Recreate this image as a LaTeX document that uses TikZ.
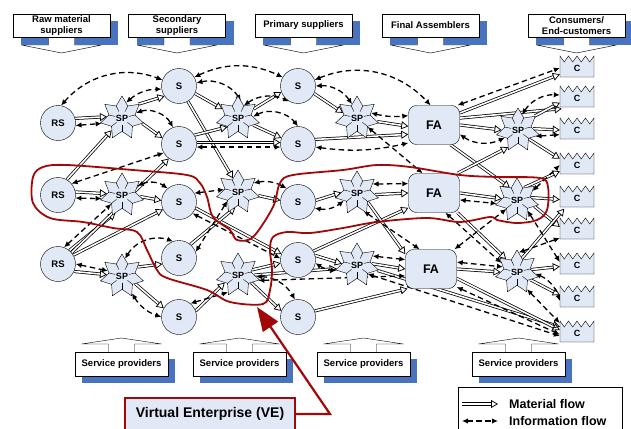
\documentclass[tikz,border=0pt]{standalone}
\usepackage{fontspec}
\setmainfont{Liberation Sans}
\usepackage{tikz}
\usetikzlibrary{arrows.meta,positioning,shapes.geometric,backgrounds,calc}
\definecolor{nodeblue}{RGB}{226,233,246}
\definecolor{shadeblue}{RGB}{72,115,190}
\definecolor{vered}{RGB}{162,8,8}

\begin{document}
\begin{tikzpicture}[
x=1pt, y=1pt,
font=\bfseries,
circ/.style={circle, draw, fill=nodeblue, minimum size=35pt, inner sep=0pt, font=\bfseries\fontsize{9.5}{10}\selectfont},
spstar/.style={star, star points=7, star point ratio=1.65, draw, fill=nodeblue, minimum size=44pt, inner sep=0pt, font=\bfseries\fontsize{9}{10}\selectfont},
fabox/.style={rectangle, rounded corners=8pt, draw, fill=nodeblue, minimum width=51pt, minimum height=39pt, font=\bfseries\fontsize{12.5}{13}\selectfont},
cnode/.style={rectangle, minimum width=34pt, minimum height=21pt, inner sep=0pt, font=\bfseries\fontsize{9}{10}\selectfont},
stagebox/.style={draw, fill=white, minimum width=97pt, minimum height=23pt, inner sep=1pt, align=center, font=\bfseries\fontsize{9.5}{10.5}\selectfont},
facet/.style={line width=0.4pt, shorten <=7pt},
mat/.style={double, double distance=1.6pt, line width=0.75pt, -{Triangle[open,length=7pt,width=8pt]}},
info/.style={dashed, dash pattern=on 5.5pt off 3.5pt, line width=1.3pt, {Latex[length=6pt,width=5.5pt]}-{Latex[length=6pt,width=5.5pt]}},
]
\useasboundingbox (0,0) rectangle (631,-428);

% Draw stage headers
\foreach \x/\txt [count=\i] in {61.5/{Raw material\\suppliers}, 177/{Secondary\\suppliers}, 303.5/{Primary suppliers}, 430.5/{Final Assemblers}, 576.5/{Consumers/\\End-customers}} {
  \fill[shadeblue] (\x-40.5,-21) rectangle (\x+56.5,-45);
  \draw[fill=white] (\x-13,-37) -- (\x-13,-45) -- (\x-40,-45) -- (\x,-53) -- (\x+40,-45) -- (\x+13,-45) -- (\x+13,-37);
  \node[stagebox] (h\i) at (\x,-25.5) {\txt};
}

% Draw service providers
\foreach \x [count=\i] in {121.5,239.5,363.5,518.5} {
  \fill[shadeblue] (\x-39.5,-359) rectangle (\x+53.5,-383);
  \draw[fill=white] (\x-13,-352) -- (\x-13,-344) -- (\x-40,-344) -- (\x,-338) -- (\x+40,-344) -- (\x+13,-344) -- (\x+13,-352);
  \node[stagebox, minimum width=93pt, minimum height=24pt] (sv\i) at (\x,-364) {Service providers};
}

% Draw nodes
\node[circ] (rs1) at (58,-123) {RS};
\node[circ] (rs2) at (58,-195) {RS};
\node[circ] (rs3) at (58,-264) {RS};
\node[spstar] (spa1) at (122,-118) {SP};
\node[spstar] (spa2) at (122,-195) {SP};
\node[spstar] (spa3) at (122,-276) {SP};
\node[circ] (s1) at (179,-86) {S};
\node[circ] (s2) at (179,-144) {S};
\node[circ] (s3) at (179,-202) {S};
\node[circ] (s4) at (179,-258) {S};
\node[circ] (s5) at (179,-317) {S};
\node[spstar] (spb1) at (238,-118) {SP};
\node[spstar] (spb2) at (238,-192) {SP};
\node[spstar] (spb3) at (238,-275) {SP};
\node[circ] (p1) at (298,-86) {S};
\node[circ] (p2) at (298,-144) {S};
\node[circ] (p3) at (298,-202) {S};
\node[circ] (p4) at (298,-260) {S};
\node[circ] (p5) at (298,-317) {S};
\node[spstar] (spc1) at (357,-118) {SP};
\node[spstar] (spc2) at (357,-193) {SP};
\node[spstar] (spc3) at (357,-265) {SP};
\node[fabox] (fa1) at (434,-125) {FA};
\node[fabox] (fa2) at (434,-193) {FA};
\node[fabox] (fa3) at (431,-269) {FA};
\node[spstar] (spd1) at (518,-130) {SP};
\node[spstar] (spd2) at (517,-200) {SP};
\node[spstar] (spd3) at (517,-272) {SP};
\foreach \y [count=\i] in {68,98,130,165,198,230,265,298,333} {
  \draw[fill=nodeblue] (560,-\y-9) -- (594,-\y-9) -- (594,-\y+12) -- (589.75,-\y+6) -- (585.5,-\y+12) -- (581.25,-\y+6) -- (577,-\y+12) -- (572.75,-\y+6) -- (568.5,-\y+12) -- (564.25,-\y+6) -- (560,-\y+12) -- cycle;
  \node[cnode] (c\i) at (577,-\y) {C};
}
\foreach \n in {spa1,spa2,spa3,spb1,spb2,spb3,spc1,spc2,spc3,spd1,spd2,spd3}
  \foreach \k in {1,...,7}
    \draw[facet] (\n.center) -- (\n.inner point \k);

\begin{scope}[on background layer]
% Material flow
\draw[mat] (rs1.15) -- (spa1.175);
\draw[mat] (rs2.60) -- (spa1.-130);
\draw[mat] (rs2.10) -- (spa2.175);
\draw[mat] (rs3.50) -- (spa2.-110);
\draw[mat] (rs3.40) -- (s2.235);
\draw[mat] (rs3.30) -- (s3.205);
\draw[mat] (rs3.-25) -- (spa3.175);
\draw[mat] (spa1.40) -- (s1.215);
\draw[mat] (spa1.-15) -- (s2.160);
\draw[mat] (spa2.-5) -- (s3.175);
\draw[mat] (spa3.30) -- (s4.200);
\draw[mat] (spa3.-30) -- (s5.150);
\draw[mat] (s1.-25) -- (spb1.150);
\draw[mat] (s1.-60) -- (spb2.110);
\draw[mat] (s2.30) -- (spb1.-140);
\draw[mat] (s2.5) -- (p2.175);
\draw[mat] (s3.-20) -- (p4.160);
\draw[mat] (s4.50) -- (spb2.-100);
\draw[mat] (s5.20) -- (spb3.-150);
\draw[mat] (spb1.30) -- (p1.200);
\draw[mat] (spb1.-25) -- (p2.160);
\draw[mat] (spb2.-10) -- (p3.175);
\draw[mat] (spb3.20) -- (p4.190);
\draw[mat] (spb3.-30) -- (p5.160);
\draw[mat] (spb3.0) -- (spc3.190);
\draw[mat] (p1.-25) -- (spc1.160);
\draw[mat] (p2.15) -- (fa1.200);
\draw[mat] (p3.5) -- (spc2.178);
\draw[mat] (p4.30) -- (fa2.210);
\draw[mat] (p4.15) -- (spc3.175);
\draw[mat] (p5.20) -- (fa3.220);
\draw[mat] (spc1.-10) -- (fa1.183);
\draw[mat] (spc2.-5) -- (fa2.west);
\draw[mat] (spc2.-40) -- (fa3.150);
\draw[mat] (spc3.5) -- (fa3.west);
\draw[mat] (spc3.-15) -- (c9.160);
\draw[mat] (fa1.0) -- (spd1.180);
\draw[mat] (fa1.25) -- (c1.200);
\draw[mat] (fa1.15) -- (c2.215);
\draw[mat] (fa1.-50) -- (spd2.120);
\draw[mat] (fa2.40) -- (spd1.-120);
\draw[mat] (fa2.east) -- (spd2.175);
\draw[mat] (fa2.-40) -- (spd3.130);
\draw[mat] (fa3.0) -- (spd3.180);
\draw[mat] (fa3.-20) -- (c9.170);
\draw[mat] (spd1.40) -- (c2.195);
\draw[mat] (spd1.5) -- (c3.180);
\draw[mat] (spd1.-40) -- (c4.160);
\draw[mat] (spd2.60) -- (c4.200);
\draw[mat] (spd2.10) -- (c5.185);
\draw[mat] (spd2.-20) -- (c6.170);
\draw[mat] (spd3.70) -- (c5.220);
\draw[mat] (spd3.10) -- (c7.185);
\draw[mat] (spd3.-30) -- (c8.170);

% Information flow
\draw[info] (rs1.80) to[bend left=35] (s1.160);
\draw[info] (rs1.-8) -- (spa1.-165);
\draw[info] (spa1.75) to[bend left=20] (s1.190);
\draw[info] (spa1.20) to[bend left=40] (s2.110);
\draw[info] (s1.10) to[bend left=35] (spb1.80);
\draw[info] (s1.30) to[bend left=25] (p1.150);
\draw[info] (spb1.65) to[bend left=30] (p1.240);
\draw[info] (spb1.5) to[bend left=40] (p2.90);
\draw[info] (s2.-10) -- (p2.-170);
\draw[info] (p1.20) to[bend left=35] (fa1.100);
\draw[info] (p1.0) to[bend left=30] (spc1.110);
\draw[info] (spc1.20) to[bend right=10] (fa1.160);
\draw[info] (spc1.-40) -- (fa2.120);
\draw[info] (p2.-10) to[bend right=10] (fa1.215);
\draw[info] (fa1.40) -- (c1.180);
\draw[info] (fa1.-20) to[bend right=30] (spd1.-150);
\draw[info] (spd1.75) to[bend left=30] (c2.170);
\draw[info] (spd1.-20) -- (c3.-165);
\draw[info] (rs2.-10) -- (spa2.-170);
\draw[info] (rs2.40) -- (s2.210);
\draw[info] (spa2.30) to[bend left=30] (s3.130);
\draw[info] (rs3.70) -- (spa2.-140);
\draw[info] (rs3.0) -- (spa3.160);
\draw[info] (spa3.80) to[bend left=40] (s4.110);
\draw[info] (spa3.-60) to[bend right=20] (s5.180);
\draw[info] (s5.50) -- (spb3.-120);
\draw[info] (s3.30) -- (spb2.170);
\draw[info] (spb2.30) to[bend left=20] (p3.130);
\draw[info] (s3.-40) -- (p4.175);
\draw[info] (spb2.-140) -- (s4.20);
\draw[info] (spb3.-5) to[bend left=30] (p5.100);
\draw[info] (spb3.-15) -- (fa3.195);
\draw[info] (p3.-20) to[bend right=25] (spc2.-150);
\draw[info] (spc2.30) -- (fa2.160);
\draw[info] (spc2.-70) -- (fa3.120);
\draw[info] (p4.-10) to[bend right=15] (spc3.-165);
\draw[info] (spc3.30) -- (fa3.160);
\draw[info] (spc3.-40) -- (c9.190);
\draw[info] (fa2.-15) -- (spd2.-170);
\draw[info] (fa2.-60) -- (spd3.150);
\draw[info] (fa3.15) -- (spd3.160);
\draw[info] (fa3.40) -- (spd2.-140);
\draw[info] (fa3.-35) -- (c9.185);
\draw[info] (spd2.30) -- (c4.180);
\draw[info] (spd2.-45) -- (c7.170);
\draw[info] (spd3.85) -- (c6.205);
\draw[info] (spd3.-5) to[bend left=25] (c8.190);
\draw[info] (spd3.-60) -- (c9.150);
\end{scope}

% Virtual enterprise
\draw[vered, line width=1.8pt] plot[smooth cycle, tension=0.55] coordinates {
(33,-177) (43,-167) (67,-165) (133,-170) (187,-175) (200,-183) (207,-197) (213,-217)
(230,-230) (237,-240) (253,-237) (273,-207) (280,-183) (293,-175) (343,-170) (377,-165)
(410,-167) (460,-175) (497,-177) (540,-178) (548,-187) (547,-210) (537,-220) (517,-223)
(497,-220) (490,-217) (460,-222) (427,-218) (377,-222) (343,-228) (310,-233) (287,-232)
(273,-237) (270,-250) (272,-270) (270,-290) (263,-304) (230,-302) (207,-290) (167,-278)
(157,-270) (147,-250) (137,-232) (113,-228) (83,-222) (50,-218) (33,-203)};
\node[draw=vered, line width=2pt, fill=nodeblue, minimum width=170pt, minimum height=32pt, font=\bfseries\fontsize{14}{16}\selectfont] (ve) at (210,-414) {Virtual Enterprise (VE)};
\coordinate (vebend) at (330,-414);
\coordinate (vetip) at (257,-307);
\draw[vered, line width=2.2pt, -{Triangle[length=24pt,width=18pt]}] (ve.east) -- (vebend) -- (vetip);

% Legend
\draw[line width=0.8pt] (458,-387) rectangle (622,-445);
\coordinate (lma) at (462,-404);
\coordinate (lmb) at (498,-404);
\coordinate (lia) at (462,-421);
\coordinate (lib) at (498,-421);
\draw[mat] (lma) -- (lmb);
\draw[info] (lia) -- (lib);
\node[anchor=west, inner sep=0pt, font=\bfseries\fontsize{12.5}{13}\selectfont] (lmat) at (509,-404) {Material flow};
\node[anchor=west, inner sep=0pt, font=\bfseries\fontsize{12.5}{13}\selectfont] (linfo) at (509,-421) {Information flow};

\end{tikzpicture}
\end{document}
